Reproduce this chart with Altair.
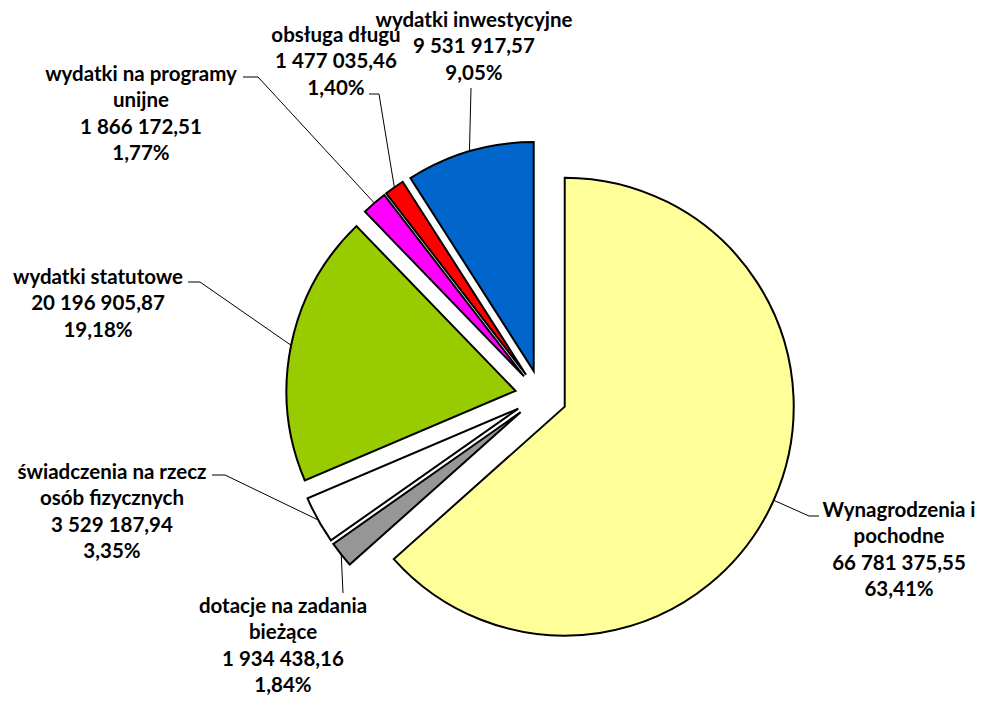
import altair as alt
import pandas as pd

# ---------------- data ----------------
categories = [
    "Wynagrodzenia i pochodne",
    "dotacje na zadania bieżące",
    "świadczenia na rzecz osób fizycznych",
    "wydatki statutowe",
    "wydatki na programy unijne",
    "obsługa długu",
    "wydatki inwestycyjne",
]
name_lines = [
    "Wynagrodzenia i\npochodne",
    "dotacje na zadania\nbieżące",
    "świadczenia na rzecz\nosób fizycznych",
    "wydatki statutowe",
    "wydatki na programy\nunijne",
    "obsługa długu",
    "wydatki inwestycyjne",
]
values = [66781375.55, 1934438.16, 3529187.94, 20196905.87, 1866172.51, 1477035.46, 9531917.57]
colors = ["#FFFF99", "#969696", "#FFFFFF", "#99CC00", "#FF00FF", "#FF0000", "#0066CC"]

# ---------------- layout (page pixels) ----------------
MARGIN = 8
CX, CY = 541 - MARGIN, 396 - MARGIN
R = 229
EXPLODE = 26
label_x = [899, 283, 112, 98, 141, 336, 474]
label_y = [510, 606, 472, 277, 74, 35, 20]
elbow_x = [809, 343, 225, 200, 258, 379, 471]
elbow_y = [516, 593, 475, 282, 77, 94, 88]
end_x = [819, 343, 212, 188, 243, 369, 471]
end_y = [516, 593, 475, 282, 77, 94, 88]

total = sum(values)


def fmt_num(v):
    return f"{v:,.2f}".replace(",", " ").replace(".", ",")


def fmt_pct(v):
    return f"{100 * v / total:.2f}%".replace(".", ",")


df = pd.DataFrame({
    "idx": list(range(len(categories))),
    "category": categories,
    "value": values,
    "label": [f"{n}\n{fmt_num(v)}\n{fmt_pct(v)}" for n, v in zip(name_lines, values)],
    "lx": [x - MARGIN for x in label_x],
    "ly": [y - MARGIN + 6.5 for y in label_y],
    "bx": [x - MARGIN for x in elbow_x],
    "by": [y - MARGIN for y in elbow_y],
    "ex": [x - MARGIN for x in end_x],
    "ey": [y - MARGIN for y in end_y],
})

base = (
    alt.Chart(df)
    .transform_joinaggregate(total="sum(value)")
    .transform_window(cum="sum(value)", sort=[alt.SortField("idx")], frame=[None, 0])
    .transform_calculate(
        t0="(datum.cum - datum.value) / datum.total * 2 * PI",
        t1="datum.cum / datum.total * 2 * PI",
    )
    .transform_calculate(mid="(datum.t0 + datum.t1) / 2")
    .transform_calculate(
        cx=f"{CX} + {EXPLODE} * sin(datum.mid)",
        cy=f"{CY} - {EXPLODE} * cos(datum.mid)",
        ax=f"{CX} + {EXPLODE + R} * sin(datum.mid)",
        ay=f"{CY} - {EXPLODE + R} * cos(datum.mid)",
    )
)

arcs = base.mark_arc(outerRadius=R, stroke="black", strokeWidth=2, strokeJoin="miter").encode(
    theta=alt.Theta("t0:Q", scale=None, stack=None),
    theta2=alt.Theta2("t1:Q"),
    x=alt.X("cx:Q", scale=None),
    y=alt.Y("cy:Q", scale=None),
    color=alt.Color("category:N", scale=alt.Scale(domain=categories, range=colors), legend=None),
)

lead1 = base.mark_rule(color="black", strokeWidth=1).encode(
    x=alt.X("ax:Q", scale=None),
    y=alt.Y("ay:Q", scale=None),
    x2=alt.X2("bx:Q"),
    y2=alt.Y2("by:Q"),
)

lead2 = base.mark_rule(color="black", strokeWidth=1).encode(
    x=alt.X("bx:Q", scale=None),
    y=alt.Y("by:Q", scale=None),
    x2=alt.X2("ex:Q"),
    y2=alt.Y2("ey:Q"),
)

texts = base.mark_text(
    lineBreak="\n",
    align="center",
    baseline="alphabetic",
    font="Lato",
    fontSize=20.5,
    fontWeight="bold",
    lineHeight=26.5,
    color="black",
).encode(
    x=alt.X("lx:Q", scale=None),
    y=alt.Y("ly:Q", scale=None),
    text="label:N",
)

chart = (
    alt.layer(lead1, lead2, arcs, texts)
    .properties(width=969, height=690, padding=0, autosize=alt.AutoSizeParams(type="none"), background="white")
    .configure_view(stroke=None)
)

chart.save("out.html", embed_options={"renderer": "svg", "actions": False})
